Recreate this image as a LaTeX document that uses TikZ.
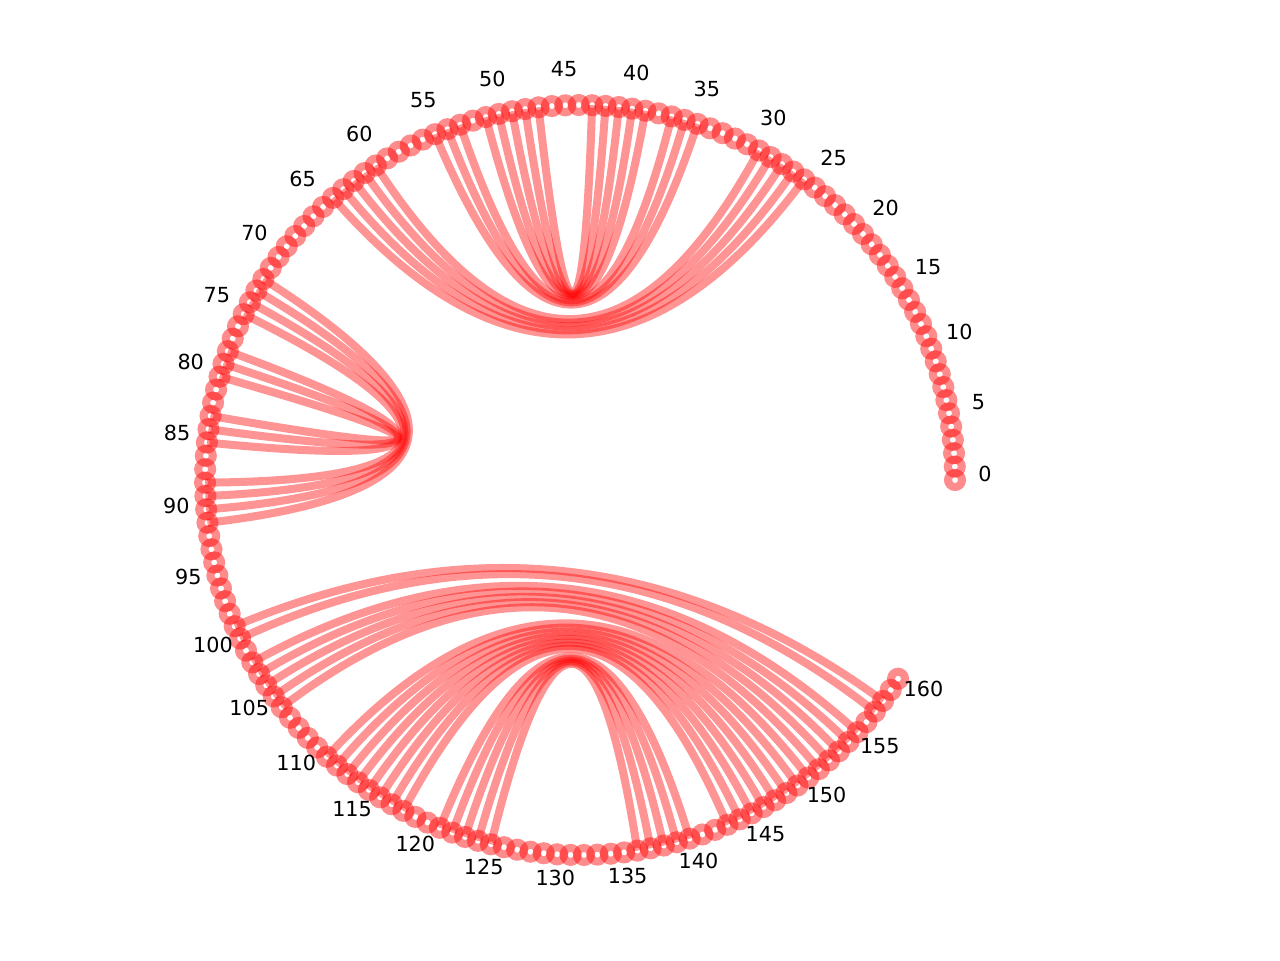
\documentclass[tikz,border=0pt]{standalone}
\usepackage{fontspec}
\setmainfont{DejaVu Sans}
\usetikzlibrary{calc}

\tikzset{
  dot/.style={circle,draw=red,draw opacity=0.45,line width=2.28pt,inner sep=0pt,minimum size=0.14cm},
  pairarc/.style={draw=red,draw opacity=0.42,line width=2.28pt},
  ticklabel/.style={font=\fontsize{5.9}{7}\selectfont,inner sep=0pt}
}

\begin{document}
\begin{tikzpicture}
    \useasboundingbox (0,0) rectangle (12.8,9.6);
    \coordinate (ctr) at (5.80,4.80);
    \coordinate (lblctr) at (5.80,4.86);
    % positions of the 161 bases
    \foreach \k in {0,...,160}
        \coordinate (p\k) at ($(ctr)+(2.05*\k:3.75)$);
    % base pairs, curved through the centre
    \foreach \i/\j in {26/64,27/63,28/62,29/61,30/60,35/55,36/54,37/53,39/51,40/50,41/49,42/48,43/47,
                       72/91,73/90,74/89,75/88,78/85,79/84,80/83,
                       99/158,100/157,102/155,103/154,104/153,105/152,106/151,
                       111/150,112/149,113/148,114/147,115/146,116/145,117/144,118/143,
                       121/140,122/139,123/138,124/137,125/136}
        \draw[pairarc] (p\i) .. controls ($(p\i)!0.6667!(ctr)$) and ($(p\j)!0.6667!(ctr)$) .. (p\j);
    % bases
    \foreach \k in {0,...,160}
        \node[dot] (b\k) at (p\k) {};
    % index labels
    \foreach \k in {0,5,...,160}
        \node[ticklabel] (t\k) at ($(lblctr)+(2.05*\k:4.05)$) {\k};
\end{tikzpicture}
\end{document}
